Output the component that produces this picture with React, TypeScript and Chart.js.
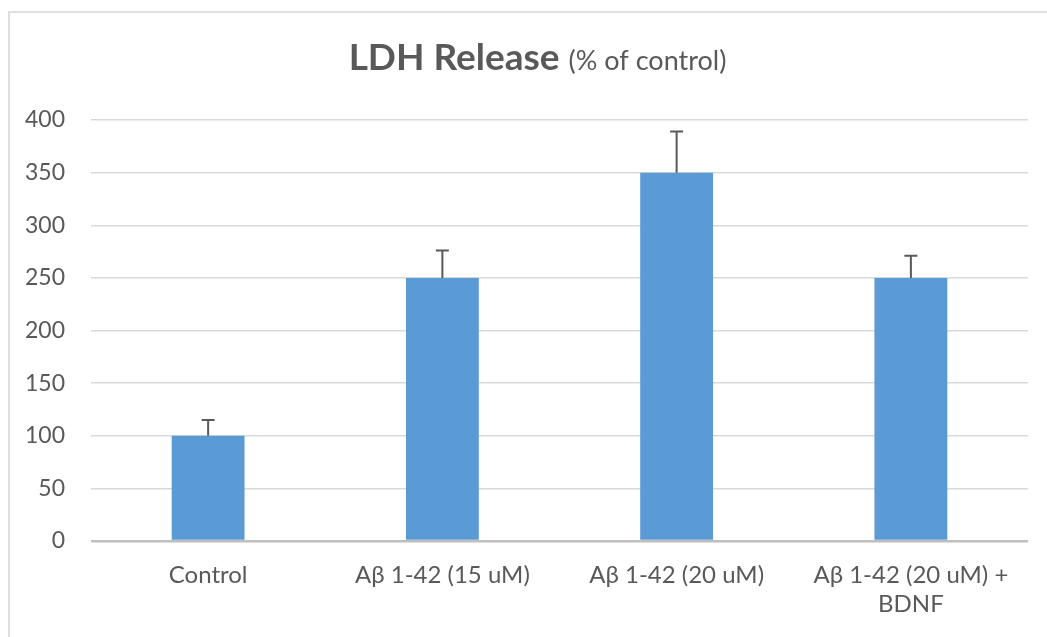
import React, { useEffect, useRef } from "react";
import { Chart, registerables } from "chart.js";

Chart.register(...registerables);

const categories: (string | string[])[] = [
  "Control",
  "Aβ 1-42 (15 uM)",
  "Aβ 1-42 (20 uM)",
  ["Aβ 1-42 (20 uM) +", "BDNF"],
];
const values = [100, 250, 350, 250];
const errors = [15, 26, 39, 21];
const yMin = 0;
const yMax = 400;
const yStep = 50;
const titleMain = "LDH Release";
const titleSub = "(% of control)";

const TEXT = "#595959";
const FONT = "Lato, 'Open Sans', sans-serif";

const titlePlugin = {
  id: "mixedTitle",
  afterDraw(chart: any) {
    const ctx = chart.ctx;
    ctx.save();
    ctx.fillStyle = TEXT;
    ctx.textBaseline = "alphabetic";
    const f1 = `bold 37px ${FONT}`;
    const f2 = `27px ${FONT}`;
    ctx.font = f1;
    const w1 = ctx.measureText(titleMain + " ").width;
    ctx.font = f2;
    const w2 = ctx.measureText(titleSub).width;
    const total = w1 + w2;
    const cx = chart.width / 2 + 7;
    const x0 = cx - total / 2;
    const y = 57;
    ctx.font = f1;
    ctx.textAlign = "left";
    ctx.fillText(titleMain + " ", x0, y);
    ctx.font = f2;
    ctx.fillText(titleSub, x0 + w1, y);
    ctx.restore();
  },
};

const errorBarPlugin = {
  id: "errorBars",
  afterDatasetsDraw(chart: any) {
    const ctx = chart.ctx;
    const meta = chart.getDatasetMeta(0);
    const yScale = chart.scales.y;
    ctx.save();
    ctx.strokeStyle = TEXT;
    ctx.lineWidth = 2;
    meta.data.forEach((bar: any, i: number) => {
      const x = bar.x;
      const yTop = yScale.getPixelForValue(values[i]);
      const yErr = yScale.getPixelForValue(values[i] + errors[i]);
      ctx.beginPath();
      ctx.moveTo(x, yTop);
      ctx.lineTo(x, yErr);
      ctx.moveTo(x - 6.5, yErr);
      ctx.lineTo(x + 6.5, yErr);
      ctx.stroke();
    });
    ctx.restore();
  },
};

export default function App() {
  const ref = useRef<HTMLCanvasElement | null>(null);

  useEffect(() => {
    if (!ref.current) return;
    const chart = new Chart(ref.current, {
      type: "bar",
      data: {
        labels: categories as any,
        datasets: [
          {
            data: values,
            backgroundColor: "#5B9BD5",
            borderWidth: 0,
            categoryPercentage: 1,
            barPercentage: 0.311,
          },
        ],
      },
      options: {
        responsive: false,
        animation: false,
        devicePixelRatio: 1,
        layout: { padding: { top: 107, right: 23, left: 0, bottom: 0 } },
        plugins: {
          legend: { display: false },
          title: { display: false },
          tooltip: { enabled: false },
        },
        scales: {
          x: {
            grid: { display: false, drawTicks: false },
            border: { display: false },
            ticks: {
              color: TEXT,
              font: { family: FONT, size: 24, lineHeight: 1.2 },
              padding: 20,
              maxRotation: 0,
              autoSkip: false,
            },
            afterFit(scale: any) {
              scale.height = 98;
            },
          },
          y: {
            min: yMin,
            max: yMax,
            grid: {
              drawTicks: false,
              color: (c: any) => (c.tick && c.tick.value === 0 ? "#bfbfbf" : "#d9d9d9"),
              lineWidth: (c: any) => (c.tick && c.tick.value === 0 ? 2.5 : 1.5),
            },
            border: { display: false },
            ticks: {
              stepSize: yStep,
              color: TEXT,
              font: { family: FONT, size: 23 },
              padding: 26,
            },
            afterFit(scale: any) {
              scale.width = 81;
            },
          },
        },
      },
      plugins: [titlePlugin, errorBarPlugin],
    });
    return () => chart.destroy();
  }, []);

  return (
    <div
      style={{
        position: "fixed",
        left: 8,
        top: 11,
        width: 1045,
        height: 630,
        border: "2px solid #dedede",
        boxSizing: "border-box",
        background: "#fff",
      }}
    >
      <canvas ref={ref} width={1041} height={626} style={{ display: "block" }} />
    </div>
  );
}
